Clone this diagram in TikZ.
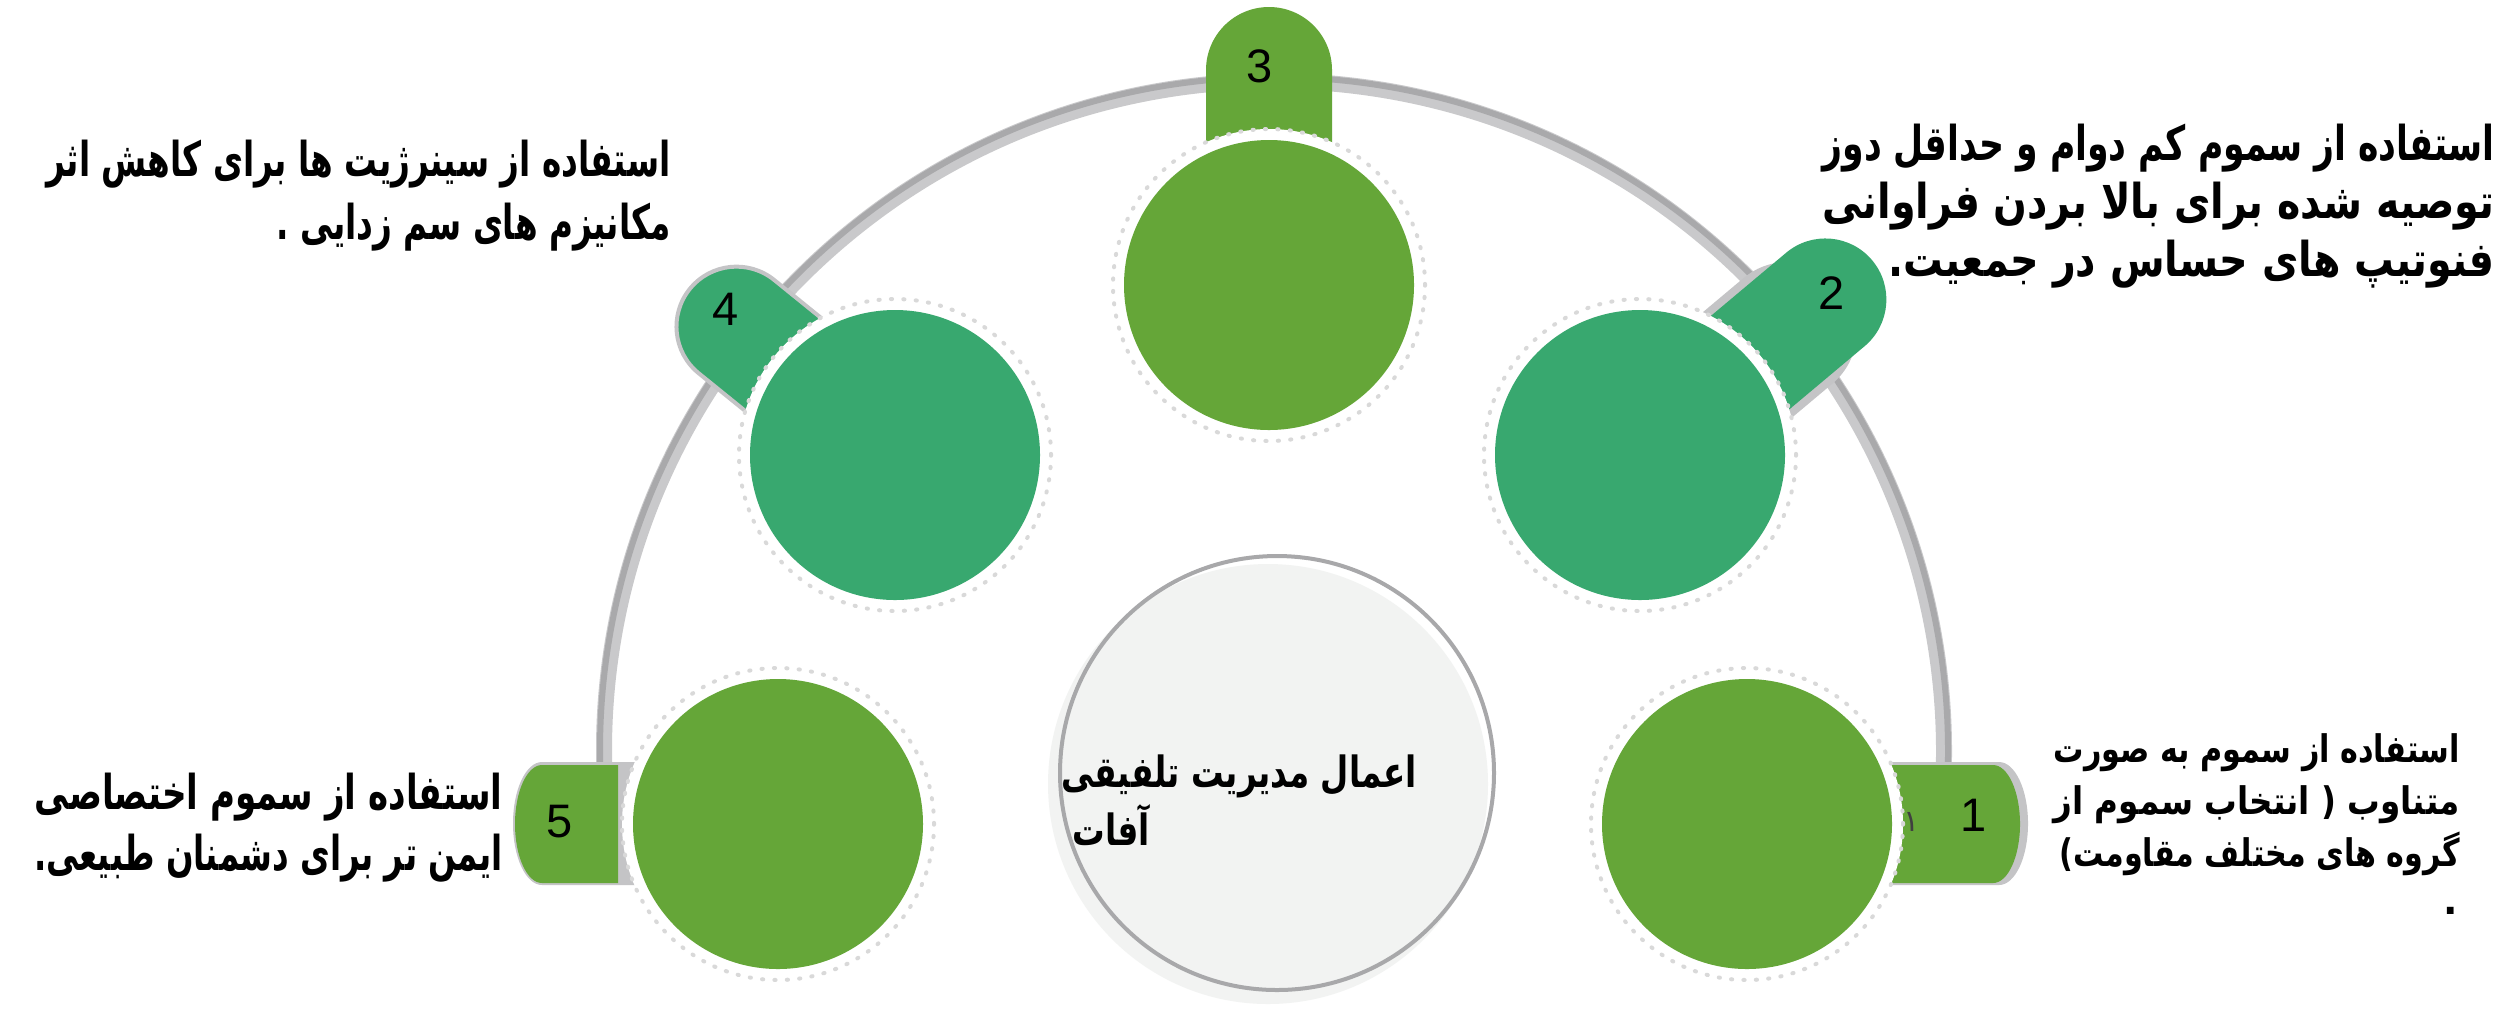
\documentclass[tikz,border=0pt]{standalone}
\usepackage{fontspec}
\usepackage{graphicx}
\setmainfont{Liberation Sans}
\newfontfamily\fa[Script=Arabic]{DejaVu Sans}
\TeXXeTstate=1

\definecolor{leaf}{HTML}{65A638}
\definecolor{jade}{HTML}{38A86F}
\definecolor{rail}{HTML}{C9C9CB}
\definecolor{raildark}{HTML}{A9A9AB}
\definecolor{tabshade}{HTML}{C4C4C6}
\definecolor{dotring}{HTML}{D9D9D9}
\definecolor{hubfill}{HTML}{F2F3F2}
\definecolor{hubline}{HTML}{A8A8AA}

% rounded tab: straight from #1 to the end #2, half width #3, end depth #4
\newcommand\pillpath[4]{(#1,-#3) -- ({#2-#4},-#3) arc[start angle=-90,end angle=90,x radius=#4,y radius=#3] -- (#1,#3) -- cycle}

% justified line of width #1; squeezed sideways when too long
\newcommand\jline[2]{%
  \setbox0=\hbox{#2}%
  \ifdim\wd0>#1\relax
    \pgfmathsetmacro\fitfactor{#1/\the\wd0}%
    \xdef\linefactor{\fitfactor}%
    \scalebox{\linefactor}[1]{\box0}%
  \else
    \gdef\linefactor{1}%
    \hbox to #1{#2}%
  \fi}
% line at its own width, with the squeeze of the line above
\newcommand\nline[1]{\scalebox{\linefactor}[1]{\hbox{#1}}}
% line no wider than #1
\newcommand\fitline[2]{%
  \setbox0=\hbox{#2}%
  \ifdim\wd0>#1\relax
    \pgfmathsetmacro\fitfactor{#1/\the\wd0}%
    \xdef\linefactor{\fitfactor}%
    \scalebox{\linefactor}[1]{\box0}%
  \else
    \gdef\linefactor{1}\box0
  \fi}

\tikzset{
  halo/.style={circle, inner sep=0pt, minimum size=156pt, fill=white,
    draw=dotring, line width=2pt, dash pattern=on 0.6pt off 5.6pt, line cap=round},
  disc/.style={circle, inner sep=0pt, minimum size=145pt},
  fa/.style={inner sep=0pt, font=\fa\bfseries\fontsize{24pt}{28pt}\selectfont},
  fasmall/.style={inner sep=0pt, font=\fa\bfseries\fontsize{19pt}{23pt}\selectfont},
  fahub/.style={inner sep=0pt, font=\fa\bfseries\fontsize{21.5pt}{25pt}\selectfont},
  num/.style={inner sep=0pt, font=\fontsize{23.5pt}{28pt}\selectfont}
}

\begin{document}
\begin{tikzpicture}[x=0.5pt, y=-0.5pt]
\useasboundingbox (0,0) rectangle (2519,1009);
\fill[white] (0,0) rectangle (2519,1009);

% the rail
\draw[rail, line width=8pt] (1274,751) ++(178:670) arc[start angle=178, end angle=362, radius=670];
\draw[raildark, line width=3pt] (1274,751) ++(178:674) arc[start angle=178, end angle=362, radius=674];

% tabs
\fill[tabshade, shift={(1752,823.5)}] \pillpath{0}{276}{61.5}{29};
\fill[leaf, shift={(1747,824)}] \pillpath{0}{273}{59}{27};

\fill[tabshade, shift={(1640,455)}, rotate=40] \pillpath{0}{262}{69}{69};
\fill[jade, shift={(1640,455)}, rotate=40] \pillpath{0}{303}{61}{61};

\fill[leaf, shift={(1269,285)}, rotate=90] \pillpath{0}{278}{63}{63};

\filldraw[fill=jade, draw=tabshade, line width=2pt, shift={(895,455)}, rotate=141] \pillpath{0}{264}{60}{60};

\fill[tabshade, shift={(778,823.5)}, rotate=180] \pillpath{0}{265}{61.5}{29};
\fill[leaf, shift={(778,824)}, rotate=180] \pillpath{160}{263}{59}{27};

% step discs
\node[halo] (h1) at (1747,824) {};
\node[halo] (h2) at (1640,455) {};
\node[halo] (h3) at (1269,285) {};
\node[halo] (h4) at (895,455) {};
\node[halo] (h5) at (778,824) {};
\node[disc, fill=leaf] (c1) at (h1) {};
\node[disc, fill=jade] (c2) at (h2) {};
\node[disc, fill=leaf] (c3) at (h3) {};
\node[disc, fill=jade] (c4) at (h4) {};
\node[disc, fill=leaf] (c5) at (h5) {};

% hub
\node[circle, fill=hubfill, minimum size=220pt, inner sep=0pt] (hubshade) at (1268,784) {};
\node[circle, draw=hubline, line width=2pt, minimum size=217pt, inner sep=0pt] (hub) at (1277,773) {};
\node[fahub, anchor=base east] (hubA) at (1417,787) {\fitline{177.5pt}{\beginR اعمال مدیریت تلفیقی\endR}};
\node[fahub, anchor=base west] (hubB) at (1072,845) {\nline{\beginR آفات\endR}};

% numbers
\node[num] (n1) at (1974,815) {1};
\node[num] (n2) at (1832,293) {2};
\node[num] (n3) at (1260,66) {3};
\node[num] (n4) at (726,309) {4};
\node[num] (n5) at (560,822) {5};
\node[inner sep=0pt, font=\fa\fontsize{15pt}{18pt}\selectfont, text=black!75] (n1ar) at (1912,822) {١};

% step texts
\node[fasmall, anchor=base east] (t1a) at (2460,762) {\jline{203pt}{\beginR استفاده از سموم به صورت\endR}};
\node[fasmall, anchor=base east] (t1b) at (2460,814) {\jline{203pt}{\beginR متناوب ( انتخاب سموم از\endR}};
\node[fasmall, anchor=base east] (t1c) at (2460,866) {\fitline{200pt}{\beginR گروه های مختلف مقاومت)\endR}};
\node[fasmall, anchor=base east] (t1d) at (2458,914) {.};

\node[fa, anchor=base east] (t2a) at (2495,160) {\jline{336pt}{\beginR استفاده از سموم کم دوام و حداقل دوز\endR}};
\node[fa, anchor=base east] (t2b) at (2495,218) {\jline{336pt}{\beginR توصیه شده برای بالا بردن فراوانی\endR}};
\node[fa, anchor=base east] (t2c) at (2495,276) {\nline{\beginR فنوتیپ های حساس در جمعیت.\endR}};

\node[fa, anchor=base east] (t4a) at (671,176) {\jline{312pt}{\beginR استفاده از سینرژیت ها برای کاهش اثر\endR}};
\node[fa, anchor=base east] (t4b) at (671,239) {\nline{\beginR مکانیزم های سم زدایی .\endR}};

\node[fa, anchor=base east] (t5a) at (503,809) {\jline{234pt}{\beginR استفاده از سموم اختصاصی\endR}};
\node[fa, anchor=base east] (t5b) at (503,870) {\jline{234pt}{\beginR ایمن تر برای دشمنان طبیعی.\endR}};
\end{tikzpicture}
\end{document}
